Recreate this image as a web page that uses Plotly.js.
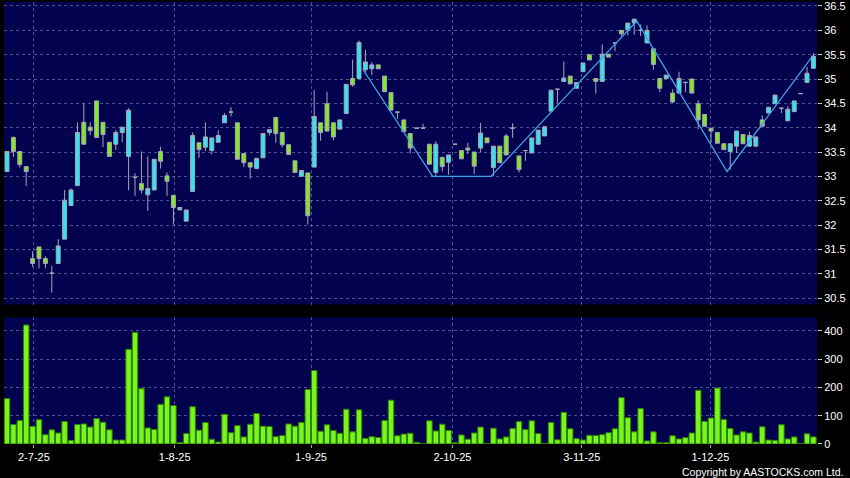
<!DOCTYPE html>
<html>
<head>
<meta charset="utf-8">
<script src="https://cdn.plot.ly/plotly-3.0.1.min.js"></script>
<style>
  html, body { margin: 0; padding: 0; background: #000; }
  #chart { width: 850px; height: 478px; }
</style>
</head>
<body>
<div id="chart"></div>
<script>
// ---- Data (127 sessions, late Jun 2025 – late Dec 2025) ----
const openP = [
  33.10,33.80,33.51,33.20,31.31,31.55,31.31,31.01,31.21,31.71,
  32.40,32.81,34.11,34.01,34.55,34.11,33.70,33.66,33.90,33.41,
  32.98,32.85,32.62,32.72,33.51,33.01,32.61,32.31,32.08,32.69,
  33.69,33.60,33.53,33.70,34.10,34.32,34.10,33.47,33.28,33.16,
  33.38,33.90,34.21,33.90,33.65,33.32,33.00,33.07,33.19,34.10,
  34.49,34.10,33.97,34.29,35.01,35.01,35.19,35.21,35.29,35.06,
  34.72,34.32,34.16,33.88,33.99,33.99,33.66,33.08,33.39,33.29,
  33.66,33.53,33.58,33.50,33.58,33.79,33.18,33.62,33.83,33.99,
  33.42,33.53,33.48,33.66,33.83,34.34,34.79,34.95,35.06,34.81,
  35.15,35.50,35.01,34.95,35.51,35.74,36.00,36.01,36.15,36.00,
  35.74,35.62,35.01,35.01,34.71,34.71,34.93,35.00,34.49,34.27,
  33.99,33.90,33.67,33.51,33.62,33.86,33.62,33.62,34.16,34.30,
  34.49,34.40,34.14,34.33,34.70,34.93,35.22
];
const highP = [
  33.51,33.82,33.51,33.20,31.46,31.55,31.36,31.16,31.71,32.72,
  32.75,34.11,34.50,34.11,34.55,34.11,33.70,33.95,34.01,34.40,
  33.06,33.51,33.41,33.35,33.61,33.08,32.61,32.36,32.31,33.90,
  33.69,34.11,33.79,33.95,34.30,34.42,34.10,33.47,33.28,33.37,
  33.88,33.96,34.21,33.90,33.65,33.32,33.12,33.07,34.77,34.10,
  34.74,34.10,34.16,34.89,35.40,35.79,35.60,35.35,35.29,35.06,
  34.72,34.32,34.16,33.88,33.99,34.08,33.66,33.72,33.39,33.44,
  33.66,33.53,33.69,33.50,34.10,33.79,33.62,33.62,33.87,34.09,
  33.42,33.53,33.79,33.95,34.02,34.77,34.79,35.36,35.06,34.93,
  35.33,35.50,35.01,35.71,35.51,35.74,36.00,36.15,36.23,36.12,
  36.10,35.62,35.01,35.08,34.79,35.15,34.93,35.00,34.56,34.27,
  33.99,33.90,33.67,33.67,33.93,33.86,33.92,33.81,34.25,34.42,
  34.67,34.40,34.44,34.55,34.70,35.25,35.53
];
const lowP = [
  33.10,33.40,33.18,32.80,31.14,31.11,31.11,30.61,31.21,31.71,
  32.40,32.81,33.66,33.85,33.80,33.60,33.41,33.54,33.70,32.71,
  32.60,32.65,32.29,32.72,33.16,32.60,32.01,32.31,32.08,32.69,
  33.38,33.52,33.45,33.70,34.10,34.23,33.35,33.19,32.95,33.16,
  33.38,33.84,33.69,33.60,33.45,33.08,33.00,32.01,33.19,33.73,
  33.93,33.74,33.97,34.29,34.84,35.01,35.10,35.08,35.21,34.74,
  34.36,34.18,33.92,33.47,33.99,33.99,33.25,32.99,33.10,33.03,
  33.66,33.36,33.46,33.05,33.50,33.69,33.01,33.28,33.44,33.79,
  33.08,33.32,33.48,33.66,33.83,34.34,34.51,34.95,34.90,34.81,
  35.15,35.39,34.70,34.95,35.45,35.57,35.88,35.90,35.91,35.88,
  35.74,35.19,34.73,35.01,34.51,34.71,34.73,34.71,33.97,34.03,
  33.69,33.68,33.55,33.14,33.48,33.67,33.62,33.62,34.03,34.30,
  34.49,34.30,34.14,34.33,34.70,34.93,35.22
];
const closeP = [
  33.51,33.51,33.24,33.10,31.21,31.31,31.21,31.01,31.57,32.51,
  32.72,33.90,33.66,33.94,33.80,33.86,33.41,33.90,34.01,34.36,
  32.98,32.72,32.75,33.35,33.31,32.90,32.36,32.36,32.31,33.84,
  33.55,33.81,33.79,33.84,34.25,34.32,33.35,33.28,33.19,33.37,
  33.88,33.96,33.88,33.65,33.45,33.08,33.12,32.19,34.23,33.90,
  33.93,33.81,34.16,34.89,34.88,35.75,35.35,35.29,35.21,34.74,
  34.36,34.32,33.92,33.58,33.99,33.99,33.25,33.66,33.20,33.44,
  33.66,33.36,33.54,33.21,33.89,33.69,33.62,33.28,33.44,33.99,
  33.14,33.53,33.79,33.95,34.02,34.77,34.79,35.02,34.90,34.93,
  35.33,35.39,34.95,35.51,35.45,35.74,35.93,36.15,36.23,36.00,
  36.00,35.30,34.81,35.08,34.53,35.01,34.93,34.71,34.16,34.03,
  33.93,33.68,33.55,33.67,33.93,33.67,33.84,33.81,34.03,34.42,
  34.67,34.40,34.38,34.55,34.70,35.12,35.47
];
const volume = [
  161,69,83,421,62,86,33,50,39,80,
  13,69,71,60,90,77,50,14,14,335,
  395,196,57,51,140,167,136,5,37,132,
  49,76,17,7,105,40,65,25,70,108,
  63,62,26,30,71,63,76,193,260,45,
  68,48,38,123,43,121,20,26,23,83,
  155,29,35,38,6,1,82,46,70,48,
  4,32,17,39,60,2,56,18,25,55,
  80,51,82,37,2,76,15,112,54,19,
  14,31,30,33,40,54,164,93,43,126,
  11,43,4,5,29,18,23,39,190,80,
  92,198,87,55,32,43,39,7,61,14,
  13,68,18,25,2,36,25
];
// Zig-zag trend line (session position, price)
const zigX = [55.6, 66.5, 75.6, 98.4, 112.5, 125.8];
const zigY = [35.20, 33.00, 33.00, 36.19, 33.10, 35.46];
// Date axis labels and their session positions
const tickPos = [4.2, 26.2, 47.5, 69.6, 89.8, 109.9];
const tickText = ['2-7-25', '1-8-25', '1-9-25', '2-10-25', '3-11-25', '1-12-25'];

const session = closeP.map((_, i) => i);

const FONT = 'Liberation Sans, Arial, sans-serif';
const gridCol = 'rgba(140,150,200,0.55)';
const wickCol = '#a4a9b6';

const traces = [
  {
    type: 'candlestick',
    x: session, open: openP, high: highP, low: lowP, close: closeP,
    xaxis: 'x2', yaxis: 'y',
    increasing: { line: { color: wickCol, width: 1 }, fillcolor: '#30e4f2' },
    decreasing: { line: { color: wickCol, width: 1 }, fillcolor: '#86e81e' },
    whiskerwidth: 0,
    hoverinfo: 'skip',
    showlegend: false
  },
  {
    type: 'scatter', mode: 'lines',
    x: zigX, y: zigY, xaxis: 'x2', yaxis: 'y',
    line: { color: '#3fa3e6', width: 1.3 },
    hoverinfo: 'skip', showlegend: false
  },
  {
    type: 'bar',
    x: session, y: volume, xaxis: 'x', yaxis: 'y2',
    marker: { color: '#78f51c', line: { color: '#2f7d00', width: 1 } },
    hoverinfo: 'skip', showlegend: false
  }
];

const xCommon = {
  type: 'linear',
  range: [-0.47, 126.56],
  tickmode: 'array',
  tickvals: tickPos,
  ticktext: tickText,
  showgrid: true,
  gridcolor: gridCol,
  griddash: '3px,3px',
  gridwidth: 1,
  zeroline: false,
  showline: false,
  fixedrange: true,
  rangeslider: { visible: false }
};

const layout = {
  width: 850, height: 478,
  margin: { l: 4, r: 33, t: 2, b: 34, pad: 0 },
  paper_bgcolor: '#000000',
  plot_bgcolor: '#02024f',
  font: { family: FONT, size: 11, color: '#ffffff' },
  boxgap: 0.12,
  bargap: 0.14,
  showlegend: false,
  xaxis: Object.assign({}, xCommon, {
    anchor: 'y2',
    domain: [0, 1],
    ticks: 'outside', ticklen: 3, tickcolor: '#aaaaaa',
    showticklabels: true,
    tickfont: { family: FONT, size: 11, color: '#ffffff' }
  }),
  xaxis2: Object.assign({}, xCommon, {
    anchor: 'y',
    matches: 'x',
    domain: [0, 1],
    ticks: '',
    showticklabels: false
  }),
  yaxis: {
    domain: [0.3156, 1],
    anchor: 'x2',
    side: 'right',
    range: [30.367, 36.582],
    tickmode: 'linear', tick0: 30.5, dtick: 0.5,
    ticks: 'outside', ticklen: 4, tickcolor: '#cccccc',
    ticklabeloverflow: 'allow',
    tickfont: { family: FONT, size: 11, color: '#ffffff' },
    showgrid: true, gridcolor: gridCol, griddash: '3px,3px', gridwidth: 1,
    zeroline: false, showline: false, fixedrange: true
  },
  yaxis2: {
    domain: [0, 0.2862],
    anchor: 'x',
    side: 'right',
    range: [0, 447.5],
    tickmode: 'linear', tick0: 0, dtick: 100,
    ticks: 'outside', ticklen: 4, tickcolor: '#cccccc',
    ticklabeloverflow: 'allow',
    tickfont: { family: FONT, size: 11, color: '#ffffff' },
    showgrid: true, gridcolor: gridCol, griddash: '3px,3px', gridwidth: 1,
    zeroline: false, showline: false, fixedrange: true
  },
  annotations: [{
    text: 'Copyright by AASTOCKS.com Ltd.',
    xref: 'paper', yref: 'paper',
    x: 1.0344, y: -0.0633,
    xanchor: 'right', yanchor: 'middle',
    showarrow: false,
    font: { family: FONT, size: 10.5, color: '#ffffff' }
  }]
};

Plotly.newPlot('chart', traces, layout, { staticPlot: true, displayModeBar: false });
</script>
</body>
</html>
